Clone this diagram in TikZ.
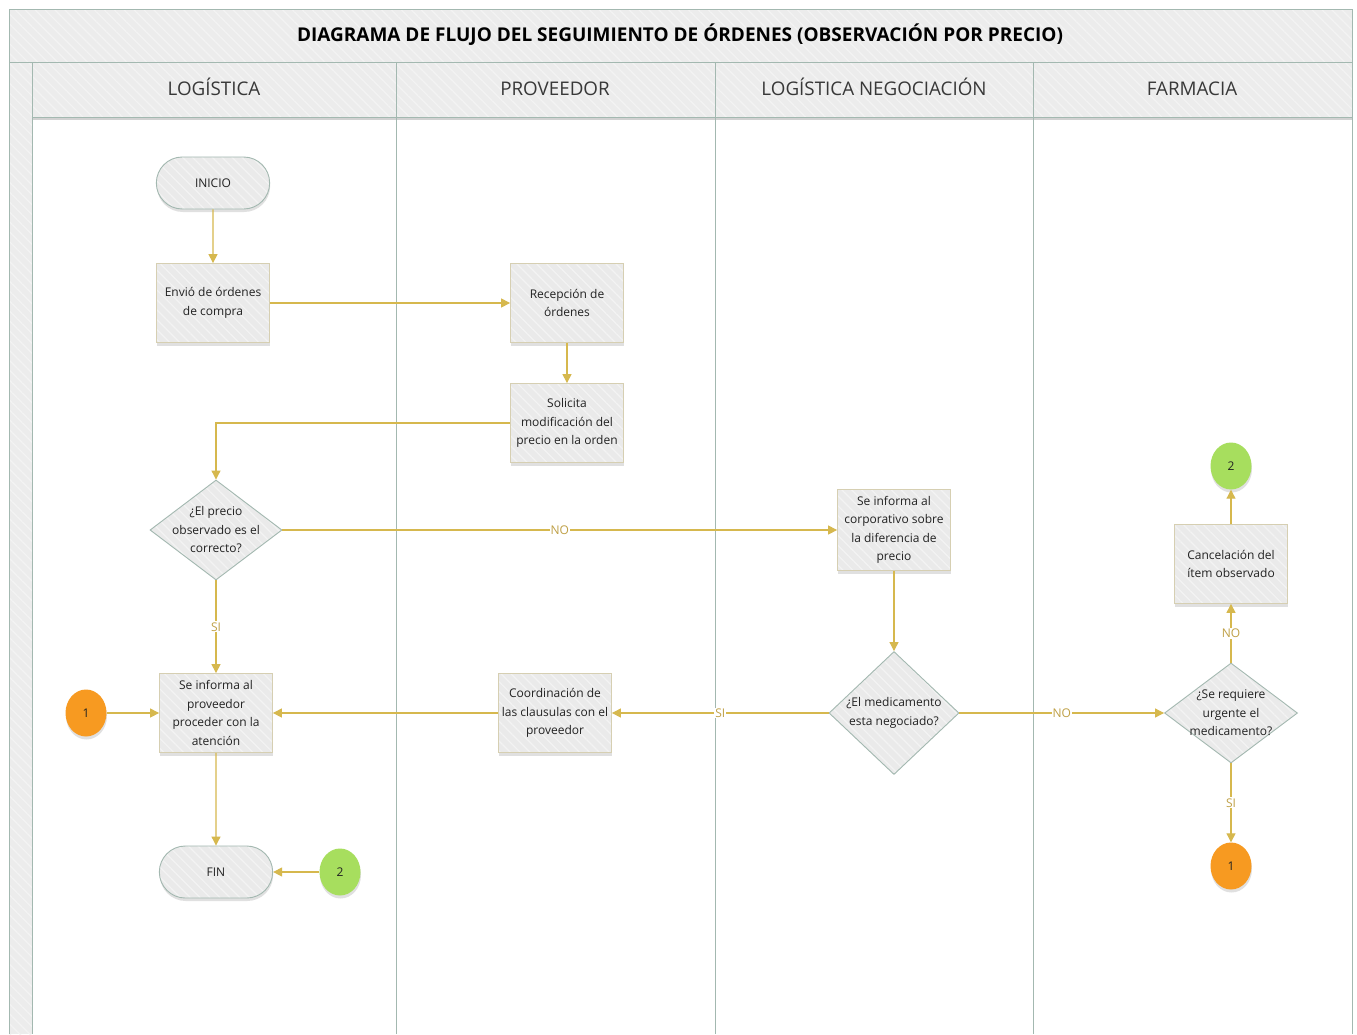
\documentclass[tikz,border=0pt]{standalone}
\usepackage{fontspec}
\setmainfont{Open Sans}
\usetikzlibrary{shapes.geometric,shapes.misc,arrows.meta,shadows,patterns.meta}

\definecolor{lanec}{HTML}{A3B8B0}
\definecolor{hdrfill}{HTML}{ECECEC}
\definecolor{boxfill}{HTML}{EAEAEA}
\definecolor{boxline}{HTML}{D6CFB2}
\definecolor{flowc}{HTML}{D6B84E}
\definecolor{lblc}{HTML}{BFA046}
\definecolor{orangec}{HTML}{F79A21}
\definecolor{greenc}{HTML}{A7DE5E}
\definecolor{txtc}{HTML}{222222}
\definecolor{stripec}{HTML}{F3F3F3}

\tikzset{
  hatchfill/.style={preaction={fill=#1},pattern={Lines[angle=-45,distance=7pt,line width=1.2pt]},pattern color=stripec},
  hatch/.style={postaction={pattern={Lines[angle=-45,distance=7pt,line width=1.2pt]},pattern color=stripec}},
  softshadow/.style={drop shadow={shadow xshift=0.5pt,shadow yshift=-3pt,opacity=0.2,fill=black!60}},
  proc/.style={rectangle,softshadow,hatchfill=boxfill,draw=boxline,line width=0.8pt,
    minimum width=113pt,minimum height=79pt,inner sep=2pt,align=center,text=txtc,
    font=\fontsize{12}{18.5}\selectfont},
  term/.style={rounded rectangle,softshadow,hatchfill=boxfill,draw=lanec,line width=0.9pt,
    minimum width=120pt,minimum height=52pt,text=txtc,font=\fontsize{12}{14}\selectfont},
  decision/.style={diamond,hatchfill=boxfill,draw=lanec,line width=0.9pt,
    minimum width=132pt,minimum height=100pt,inner sep=0pt},
  dtext/.style={align=center,text=txtc,font=\fontsize{12}{18.5}\selectfont},
  conn/.style={ellipse,minimum width=41pt,minimum height=47pt,inner sep=0pt,softshadow,
    text=txtc,font=\fontsize{12}{14}\selectfont},
  flow/.style={draw=flowc,line width=1.1pt,-{Triangle[length=9pt,width=9pt]}},
  lab/.style={fill=white,inner sep=1pt,text=lblc,font=\fontsize{12}{13}\selectfont},
  lane/.style={draw=lanec,line width=1pt},
  hdr/.style={anchor=base,text=txtc!90,font=\fontsize{18.8}{20}\selectfont}
}

\begin{document}
\begin{tikzpicture}[x=1pt,y=-1pt]
\useasboundingbox (0,0) rectangle (1357,1034);
\fill[white] (0,0) rectangle (1357,1034);

% pool frame, title band, lane header row and left strip
\fill[hdrfill,hatch] (9,9) rectangle (1352,62);
\fill[hdrfill,hatch] (9,62) rectangle (32,1034);
\fill[black!18] (32,117) rectangle (1352,120);
\fill[hdrfill,hatch] (32,62) rectangle (1352,117);
\draw[lane] (9,1034) -- (9,9) -- (1352,9) -- (1352,1034);
\draw[lane] (9,62) -- (1352,62);
\draw[lane] (32,117) -- (1352,117);
\draw[lane] (32,62) -- (32,1034);
\foreach \lx in {396,715,1033} \draw[lane] (\lx,62) -- (\lx,1034);

\node[anchor=base,text=black,font=\bfseries\fontsize{19}{20}\selectfont] (title) at (680,41)
  {DIAGRAMA DE FLUJO DEL SEGUIMIENTO DE ÓRDENES (OBSERVACIÓN POR PRECIO)};
\node[hdr] (h1) at (214,95) {LOGÍSTICA};
\node[hdr] (h2) at (555,95) {PROVEEDOR};
\node[hdr] (h3) at (874,95) {LOGÍSTICA NEGOCIACIÓN};
\node[hdr] (h4) at (1192,95) {FARMACIA};

% process steps
\node[term] (inicio) at (213,183) {INICIO};
\node[proc] (envio) at (213,303) {Envió de órdenes\\de compra};
\node[proc] (recep) at (567,303) {Recepción de\\órdenes};
\node[proc] (solic) at (567,423) {Solicita\\modificación del\\precio en la orden};
\node[decision,label={[dtext]center:¿El precio\\observado es el\\correcto?}] (d1) at (216,530) {};
\node[proc] (infprov) at (216,713) {Se informa al\\proveedor\\proceder con la\\atención};
\node[conn,fill=orangec] (c1a) at (86,713) {1};
\node[term] (fin) at (216,872) {FIN};
\node[conn,fill=greenc] (c2a) at (340,872) {2};
\node[proc] (coord) at (555,713) {Coordinación de\\las clausulas con el\\proveedor};
\node[proc,minimum height=81pt] (corp) at (894,530) {Se informa al\\corporativo sobre\\la diferencia de\\precio};
\node[decision,minimum width=130pt,minimum height=123pt,label={[dtext]center:¿El medicamento\\esta negociado?}] (d2) at (894,713) {};
\node[decision,minimum width=133pt,label={[dtext]center:¿Se requiere\\urgente el\\medicamento?}] (d3) at (1231,713) {};
\node[proc] (cancel) at (1231,564) {Cancelación del\\ítem observado};
\node[conn,fill=greenc] (c2b) at (1231,466) {2};
\node[conn,fill=orangec] (c1b) at (1231,866) {1};

% connectors
\draw[flow] (inicio) -- (envio);
\draw[flow] (envio) -- (recep);
\draw[flow] (recep) -- (solic);
\draw[flow] (solic.west) -| (d1.north);
\draw[flow] (d1.east) -- node[lab] {NO} (corp.west);
\draw[flow] (d1.south) -- node[lab] {SI} (infprov.north);
\draw[flow] (c1a) -- (infprov.west);
\draw[flow] (infprov) -- (fin);
\draw[flow] (c2a) -- (fin.east);
\draw[flow] (corp) -- (d2);
\draw[flow] (d2.west) -- node[lab] {SI} (coord.east);
\draw[flow] (coord.west) -- (infprov.east);
\draw[flow] (d2.east) -- node[lab] {NO} (d3.west);
\draw[flow] (d3.north) -- node[lab] {NO} (cancel.south);
\draw[flow] (cancel) -- (c2b);
\draw[flow] (d3.south) -- node[lab] {SI} (c1b);
\end{tikzpicture}
\end{document}
